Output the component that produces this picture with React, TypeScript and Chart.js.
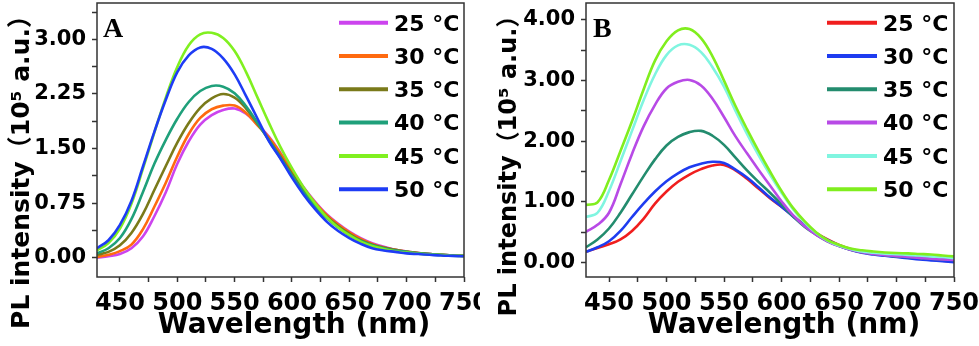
import React, { useEffect, useRef } from "react";
import { Chart, registerables } from "chart.js";
Chart.register(...registerables);

// ---------- data ----------
const wavelengths = [430, 440, 450, 460, 470, 480, 490, 500, 510, 520, 530, 540, 550, 560, 570, 580, 590, 600, 610, 620, 630, 640, 650, 660, 670, 680, 690, 700, 710, 720, 730, 740, 750];
const tempLabels = ["25 °C", "30 °C", "35 °C", "40 °C", "45 °C", "50 °C"];

// Panel A
const a25 = [0.0, 0.02, 0.05, 0.13, 0.29, 0.57, 0.9, 1.29, 1.6, 1.83, 1.96, 2.03, 2.05, 1.98, 1.83, 1.66, 1.44, 1.2, 0.97, 0.77, 0.6, 0.47, 0.36, 0.27, 0.2, 0.15, 0.11, 0.085, 0.065, 0.05, 0.04, 0.03, 0.025];
const a30 = [0.01, 0.04, 0.09, 0.18, 0.39, 0.7, 1.03, 1.39, 1.7, 1.92, 2.04, 2.09, 2.09, 1.99, 1.82, 1.65, 1.43, 1.19, 0.96, 0.76, 0.59, 0.46, 0.35, 0.26, 0.19, 0.14, 0.11, 0.085, 0.065, 0.05, 0.04, 0.03, 0.025];
const a35 = [0.04, 0.08, 0.17, 0.34, 0.6, 0.93, 1.26, 1.58, 1.85, 2.06, 2.19, 2.25, 2.2, 2.05, 1.84, 1.62, 1.39, 1.15, 0.93, 0.73, 0.57, 0.44, 0.33, 0.24, 0.18, 0.14, 0.11, 0.08, 0.065, 0.05, 0.04, 0.03, 0.025];
const a40 = [0.06, 0.13, 0.27, 0.53, 0.9, 1.29, 1.62, 1.91, 2.14, 2.29, 2.36, 2.35, 2.26, 2.08, 1.85, 1.61, 1.37, 1.13, 0.9, 0.71, 0.55, 0.42, 0.31, 0.23, 0.17, 0.13, 0.1, 0.08, 0.06, 0.05, 0.04, 0.03, 0.025];
const a45 = [0.1, 0.2, 0.4, 0.74, 1.22, 1.72, 2.2, 2.62, 2.92, 3.07, 3.09, 3.02, 2.84, 2.55, 2.2, 1.85, 1.52, 1.23, 0.97, 0.75, 0.56, 0.42, 0.31, 0.22, 0.16, 0.12, 0.09, 0.07, 0.055, 0.045, 0.035, 0.028, 0.022];
const a50 = [0.13, 0.24, 0.45, 0.78, 1.25, 1.73, 2.17, 2.55, 2.78, 2.89, 2.87, 2.74, 2.52, 2.22, 1.91, 1.6, 1.36, 1.1, 0.87, 0.67, 0.5, 0.37, 0.27, 0.19, 0.13, 0.1, 0.08, 0.06, 0.05, 0.04, 0.03, 0.025, 0.02];

// Panel B
const b25 = [0.175, 0.24, 0.3, 0.38, 0.52, 0.72, 0.97, 1.17, 1.33, 1.45, 1.54, 1.6, 1.61, 1.52, 1.38, 1.22, 1.06, 0.92, 0.77, 0.62, 0.49, 0.38, 0.29, 0.22, 0.18, 0.15, 0.13, 0.11, 0.09, 0.07, 0.05, 0.03, 0.02];
const b30 = [0.175, 0.25, 0.35, 0.52, 0.75, 0.97, 1.17, 1.34, 1.47, 1.57, 1.63, 1.66, 1.64, 1.53, 1.4, 1.24, 1.07, 0.92, 0.76, 0.61, 0.48, 0.37, 0.28, 0.21, 0.16, 0.13, 0.11, 0.09, 0.07, 0.05, 0.035, 0.02, 0.005];
const b35 = [0.25, 0.38, 0.56, 0.82, 1.12, 1.42, 1.7, 1.93, 2.07, 2.15, 2.17, 2.09, 1.94, 1.73, 1.52, 1.33, 1.15, 0.96, 0.76, 0.59, 0.46, 0.35, 0.27, 0.21, 0.17, 0.14, 0.12, 0.1, 0.09, 0.075, 0.06, 0.05, 0.04];
const b40 = [0.505, 0.62, 0.82, 1.29, 1.79, 2.24, 2.6, 2.87, 2.98, 3.01, 2.92, 2.7, 2.4, 2.08, 1.8, 1.53, 1.27, 1.01, 0.78, 0.6, 0.46, 0.35, 0.27, 0.21, 0.17, 0.14, 0.12, 0.105, 0.09, 0.075, 0.06, 0.05, 0.04];
const b45 = [0.75, 0.82, 1.18, 1.67, 2.17, 2.67, 3.1, 3.42, 3.58, 3.59, 3.47, 3.22, 2.9, 2.5, 2.12, 1.77, 1.45, 1.15, 0.88, 0.66, 0.49, 0.36, 0.28, 0.22, 0.18, 0.16, 0.145, 0.135, 0.125, 0.115, 0.1, 0.09, 0.07];
const b50 = [0.95, 0.99, 1.36, 1.84, 2.33, 2.85, 3.33, 3.65, 3.83, 3.85, 3.7, 3.4, 3.0, 2.58, 2.2, 1.84, 1.5, 1.18, 0.9, 0.68, 0.5, 0.37, 0.29, 0.23, 0.2, 0.18, 0.165, 0.155, 0.15, 0.14, 0.13, 0.115, 0.1];

const aColors = ["#CC44EE", "#FF6A10", "#7A7A1A", "#1FA07A", "#80F020", "#1E3CF5"];
const bColors = ["#F01E1E", "#1E3CF0", "#238C6E", "#B84AE6", "#80F5E0", "#80EE1E"];

// ticks
const xTickValues = [450, 475, 500, 525, 550, 575, 600, 625, 650, 675, 700, 725, 750];
const xTickLabeled = [450, 500, 550, 600, 650, 700, 750];
const aYTickValues = [0, 0.375, 0.75, 1.125, 1.5, 1.875, 2.25, 2.625, 3.0, 3.375];
const aYTickLabeled = [0, 0.75, 1.5, 2.25, 3.0];
const bYTickValues = [0, 0.5, 1.0, 1.5, 2.0, 2.5, 3.0, 3.5, 4.0];
const bYTickLabeled = [0, 1.0, 2.0, 3.0, 4.0];

const xTitle = "Wavelength (nm)";
const yTitle = "PL intensity（10⁵ a.u.）";

const SANS = '"DejaVu Sans", "Noto Sans CJK SC", sans-serif';

type PanelCfg = {
  series: number[][];
  colors: string[];
  letter: string;
  yMin: number;
  yMax: number;
  yTicks: number[];
  yLabeled: number[];
  yWidth: number;
  rightPad: number;
  canvasWidth: number;
  left: number;
  legendX1: number;
  legendX2: number;
  legendTextX: number;
  yTitleX: number;
  yTitleY: number;
  yTitleSize: number;
};

function overlay(cfg: PanelCfg) {
  return {
    id: "overlay" + cfg.letter,
    afterDraw(chart: any) {
      const ctx = chart.ctx as CanvasRenderingContext2D;
      const a = chart.chartArea;
      ctx.save();
      ctx.strokeStyle = "#333";
      ctx.lineWidth = 1.5;
      ctx.strokeRect(a.left, a.top, a.right - a.left, a.bottom - a.top);

      ctx.fillStyle = "#000";
      ctx.textAlign = "left";
      ctx.textBaseline = "alphabetic";
      ctx.font = 'bold 28px "Liberation Serif", "Times New Roman", serif';
      ctx.fillText(cfg.letter, 103, 36.5);

      // legend
      ctx.font = "bold 22px " + SANS;
      chart.data.datasets.forEach((ds: any, i: number) => {
        const y = 22.7 + i * 33.3;
        ctx.strokeStyle = ds.borderColor;
        ctx.lineWidth = 4;
        ctx.beginPath();
        ctx.moveTo(cfg.legendX1, y);
        ctx.lineTo(cfg.legendX2, y);
        ctx.stroke();
        ctx.fillStyle = "#000";
        ctx.fillText(ds.label, cfg.legendTextX, y + 7.8);
      });

      // x title
      ctx.font = "bold 28px " + SANS;
      ctx.textAlign = "center";
      ctx.fillText(xTitle, 294, 333);

      // y title
      ctx.save();
      ctx.translate(cfg.yTitleX, cfg.yTitleY);
      ctx.rotate(-Math.PI / 2);
      ctx.font = "bold " + cfg.yTitleSize + "px " + SANS;
      ctx.textAlign = "center";
      ctx.textBaseline = "middle";
      ctx.fillText(yTitle, 0, 0);
      ctx.restore();

      ctx.restore();
    },
  };
}

function buildConfig(cfg: PanelCfg): any {
  const n = cfg.series.length;
  return {
    type: "line",
    data: {
      datasets: cfg.series.map((s, i) => ({
        label: tempLabels[i],
        data: wavelengths.map((w, j) => ({ x: w, y: s[j] })),
        borderColor: cfg.colors[i],
        backgroundColor: cfg.colors[i],
        borderWidth: 2.6,
        pointRadius: 0,
        tension: 0.4,
        fill: false,
        order: n - i,
      })),
    },
    options: {
      responsive: false,
      animation: false,
      devicePixelRatio: 1,
      layout: { padding: { left: 0, top: 3, right: cfg.rightPad, bottom: 0 } },
      plugins: { legend: { display: false }, tooltip: { enabled: false }, title: { display: false } },
      scales: {
        x: {
          type: "linear",
          min: 430,
          max: 750,
          afterBuildTicks: (s: any) => {
            s.ticks = xTickValues.map((v) => ({ value: v }));
          },
          afterFit: (s: any) => {
            s.height = 69;
            s.paddingLeft = 0;
            s.paddingRight = 0;
          },
          ticks: {
            autoSkip: false,
            maxRotation: 0,
            padding: 7,
            color: "#000",
            font: { family: SANS, size: 24, weight: "bold" },
            callback: (v: number) => (xTickLabeled.includes(v) ? String(v) : ""),
          },
          grid: { display: true, drawOnChartArea: false, tickLength: 5, tickWidth: 1.5, tickColor: "#333" },
          border: { display: false },
        },
        y: {
          type: "linear",
          min: cfg.yMin,
          max: cfg.yMax,
          afterBuildTicks: (s: any) => {
            s.ticks = cfg.yTicks.map((v) => ({ value: v }));
          },
          afterFit: (s: any) => {
            s.width = cfg.yWidth;
            s.paddingTop = 0;
            s.paddingBottom = 0;
          },
          ticks: {
            autoSkip: false,
            padding: 6,
            color: "#000",
            font: { family: SANS, size: 21, weight: "bold" },
            callback: (v: number) => (cfg.yLabeled.includes(v) ? v.toFixed(2) : ""),
          },
          grid: { display: true, drawOnChartArea: false, tickLength: 5, tickWidth: 1.5, tickColor: "#333" },
          border: { display: false },
        },
      },
    },
    plugins: [overlay(cfg)],
  };
}

function Panel({ cfg }: { cfg: PanelCfg }) {
  const ref = useRef<HTMLCanvasElement>(null);
  useEffect(() => {
    const chart = new Chart(ref.current as HTMLCanvasElement, buildConfig(cfg));
    return () => chart.destroy();
  }, []);
  return (
    <canvas
      ref={ref}
      width={cfg.canvasWidth}
      height={346}
      style={{ position: "absolute", left: cfg.left, top: 0, width: cfg.canvasWidth, height: 346 }}
    />
  );
}

const panelA: PanelCfg = {
  series: [a25, a30, a35, a40, a45, a50],
  colors: aColors,
  letter: "A",
  yMin: -0.265,
  yMax: 3.5,
  yTicks: aYTickValues,
  yLabeled: aYTickLabeled,
  yWidth: 97,
  rightPad: 16,
  canvasWidth: 480,
  left: 0,
  legendX1: 339,
  legendX2: 388,
  legendTextX: 394,
  yTitleX: 22,
  yTitleY: 166,
  yTitleSize: 25,
};

const panelB: PanelCfg = {
  series: [b25, b30, b35, b40, b45, b50],
  colors: bColors,
  letter: "B",
  yMin: -0.24,
  yMax: 4.28,
  yTicks: bYTickValues,
  yLabeled: bYTickLabeled,
  yWidth: 96,
  rightPad: 25,
  canvasWidth: 489,
  left: 490,
  legendX1: 337,
  legendX2: 387,
  legendTextX: 393,
  yTitleX: 20,
  yTitleY: 160,
  yTitleSize: 24,
};

export default function App() {
  return (
    <div style={{ position: "fixed", left: 0, top: 0, width: 979, height: 346, background: "#fff", overflow: "hidden" }}>
      <Panel cfg={panelA} />
      <Panel cfg={panelB} />
    </div>
  );
}
